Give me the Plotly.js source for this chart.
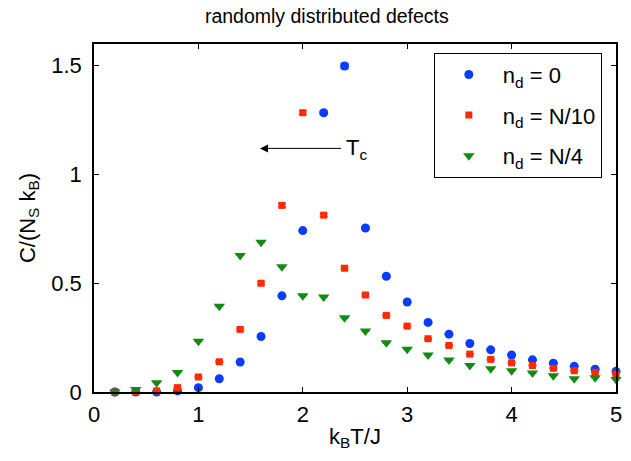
<!DOCTYPE html>
<html>
<head>
<meta charset="utf-8">
<script src="https://cdn.plot.ly/plotly-3.0.1.min.js"></script>
<style>html,body{margin:0;padding:0;background:#fff;}#chart{width:631px;height:461px;}</style>
</head>
<body>
<div id="chart"></div>
<script>
var temperature = [0.2,0.4,0.6,0.8,1.0,1.2,1.4,1.6,1.8,2.0,2.2,2.4,2.6,2.8,3.0,3.2,3.4,3.6,3.8,4.0,4.2,4.4,4.6,4.8,5.0];
var cPure  = [0.0,0.0,0.0,0.005,0.02,0.061,0.138,0.255,0.442,0.742,1.284,1.499,0.754,0.532,0.414,0.320,0.266,0.223,0.194,0.170,0.148,0.132,0.118,0.105,0.095];
var cTenth = [0.0,0.0,0.005,0.02,0.069,0.139,0.288,0.50,0.858,1.284,0.813,0.569,0.446,0.352,0.303,0.245,0.214,0.174,0.150,0.134,0.122,0.109,0.098,0.090,0.083];
var cQuart = [0.0,0.012,0.043,0.09,0.233,0.394,0.628,0.688,0.576,0.443,0.437,0.341,0.28,0.226,0.197,0.170,0.147,0.122,0.107,0.098,0.087,0.075,0.061,0.066,0.058];
var errPure  = [0,0,0,0,0,0,0,0,0,0.005,0.008,0.012,0.006,0.004,0.003,0.002,0.002,0.002,0.002,0.002,0.002,0.002,0.002,0.002,0.002];
var errTenth = [0,0,0,0.004,0.004,0.004,0.006,0.006,0.008,0.008,0.006,0.005,0.005,0.004,0.004,0.004,0.004,0.003,0.003,0.003,0.003,0.003,0.003,0.003,0.003];
var errQuart = [0,0,0,0,0,0,0,0,0,0,0,0,0,0,0,0,0,0,0,0,0,0,0,0,0];
var seriesNames = ['n<sub>d</sub> = 0','n<sub>d</sub> = N/10','n<sub>d</sub> = N/4'];
var xTicks = [0,1,2,3,4,5];
var yTicks = [0,0.5,1,1.5];
var yTickText = ['0','0.5','1','1.5'];

var font = 'Liberation Sans';
function tr(y, err, name, color, symbol, size, group) {
  return {
    x: temperature, y: y, name: name, type: 'scatter', mode: 'markers', legendgroup: group,
    marker: {color: color, symbol: symbol, size: size, line: {width: 0}},
    error_y: {type: 'data', array: err, visible: true, color: color, thickness: 1.2, width: 4},
    cliponaxis: false
  };
}
var data = [
  tr(cPure, errPure, seriesNames[0], '#0a3cff', 'circle', 9, 'a'),
  tr(cTenth, errTenth, seriesNames[1], '#ff2a00', 'square', 7, 'b'),
  tr(cQuart, errQuart, seriesNames[2], '#138a13', 'triangle-down', 10, 'c')
];
var axisCommon = {
  showgrid: false, zeroline: false, showline: true, linecolor: '#000', linewidth: 1.5,
  mirror: 'ticks', ticks: 'inside', ticklen: 5, tickwidth: 1, tickcolor: '#000',
  tickfont: {family: font, size: 22, color: '#000'}
};
var layout = {
  width: 631, height: 461,
  margin: {l: 94, r: 15, t: 44, b: 69},
  paper_bgcolor: '#fff', plot_bgcolor: '#fff',
  font: {family: font, color: '#000'},
  title: {text: 'randomly distributed defects', font: {family: font, size: 19.5, color: '#000'}, x: 0.518, xref: 'container', xanchor: 'center', y: 0.965, yanchor: 'middle'},
  xaxis: Object.assign({}, axisCommon, {range: [0, 5], tickvals: xTicks, ticktext: xTicks.map(String), ticklabelstandoff: 2,
    title: {text: 'k<sub>B</sub>T/J', font: {family: font, size: 22, color: '#000'}, standoff: 2}}),
  yaxis: Object.assign({}, axisCommon, {range: [0, 1.6], tickvals: yTicks, ticktext: yTickText, ticklabelstandoff: 6,
    title: {text: 'C/(N<sub>S</sub> k<sub>B</sub>)', font: {family: font, size: 22, color: '#000'}, standoff: 10}}),
  showlegend: true,
  legend: {x: 0.651, y: 0.975, xanchor: 'left', yanchor: 'top', bgcolor: '#fff', bordercolor: '#000', borderwidth: 1,
    font: {family: font, size: 22, color: '#000'}, itemsizing: 'trace', itemwidth: 58,
    traceorder: 'grouped', tracegroupgap: 9},
  annotations: [
    {x: 1.59, y: 1.12, xref: 'x', yref: 'y', ax: 2.38, ay: 1.12, axref: 'x', ayref: 'y',
     showarrow: true, arrowhead: 2, arrowsize: 1.6, arrowwidth: 1, arrowcolor: '#000', text: ''},
    {x: 2.39, y: 1.115, xref: 'x', yref: 'y', xanchor: 'left', yanchor: 'middle', showarrow: false,
     text: 'T<sub>c</sub>', font: {family: font, size: 22, color: '#000'}}
  ]
};
Plotly.newPlot('chart', data, layout, {displayModeBar: false});
</script>
</body>
</html>
